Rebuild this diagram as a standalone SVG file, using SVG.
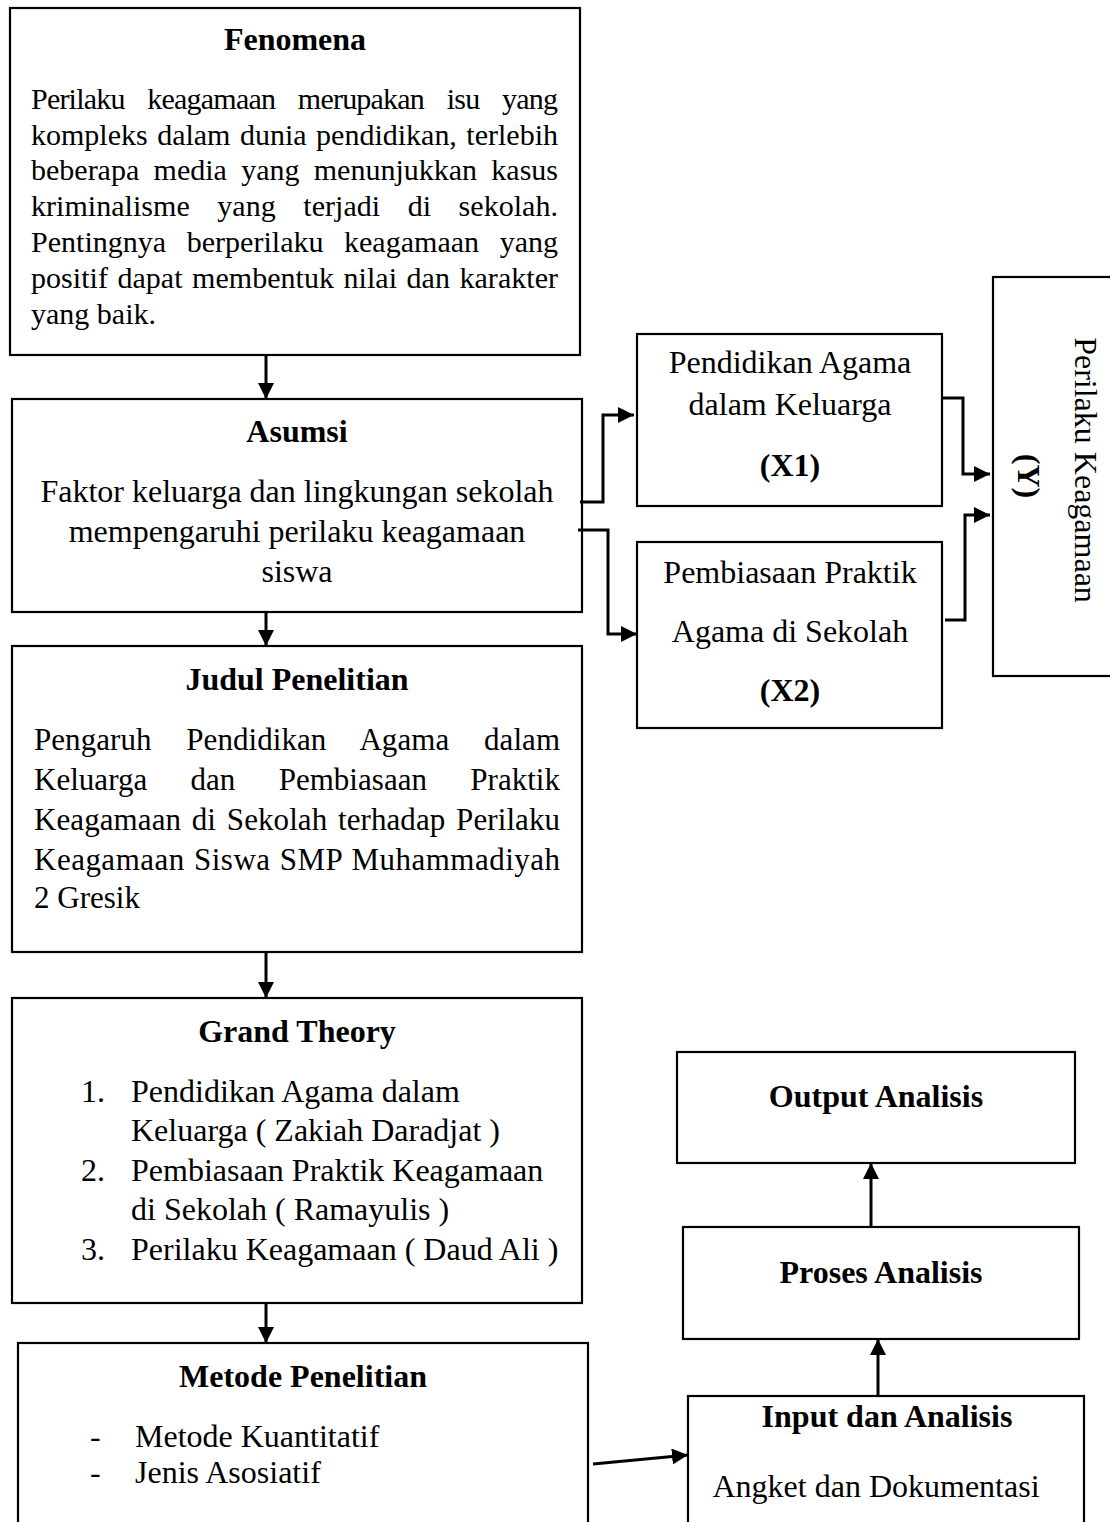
<svg xmlns="http://www.w3.org/2000/svg" width="1110" height="1522" viewBox="0 0 1110 1522">
<style>
.box{fill:#fff;stroke:#000;stroke-width:2.2}
.t{font-family:"Liberation Serif","Times New Roman",serif;fill:#000}
.b{font-weight:bold}
.s30{font-size:30px}
.s31{font-size:31px}
.s32{font-size:32px}
.c{text-anchor:middle}
.ln{fill:none;stroke:#000;stroke-width:3}
</style>
<defs>
<marker id="ah" markerUnits="userSpaceOnUse" markerWidth="18" markerHeight="16" refX="16" refY="8" orient="auto">
<path d="M0,0 L16,8 L0,16 Z" fill="#000"/>
</marker>
</defs>
<rect width="1110" height="1522" fill="#fff"/>

<g id="fenomena">
<rect class="box" x="10" y="8" width="570" height="347"/>
<text class="t b s32 c" x="295" y="50">Fenomena</text>
<text class="t s30" x="31" y="109" textLength="527" lengthAdjust="spacing" word-spacing="16">Perilaku keagamaan merupakan isu yang</text>
<text class="t s30" x="31" y="145" textLength="527" lengthAdjust="spacing" word-spacing="2">kompleks dalam dunia pendidikan, terlebih</text>
<text class="t s30" x="31" y="180" textLength="527" lengthAdjust="spacing" word-spacing="6.8">beberapa media yang menunjukkan kasus</text>
<text class="t s30" x="31" y="216" textLength="527" lengthAdjust="spacing" word-spacing="20">kriminalisme yang terjadi di sekolah.</text>
<text class="t s30" x="31" y="252" textLength="527" lengthAdjust="spacing" word-spacing="13">Pentingnya berperilaku keagamaan yang</text>
<text class="t s30" x="31" y="288" textLength="527" lengthAdjust="spacing" word-spacing="2">positif dapat membentuk nilai dan karakter</text>
<text class="t s30" x="31" y="324">yang baik.</text>
</g>

<g id="asumsi">
<rect class="box" x="12" y="399" width="570" height="213"/>
<text class="t b s32 c" x="297" y="442">Asumsi</text>
<text class="t s32 c" x="297" y="502">Faktor keluarga dan lingkungan sekolah</text>
<text class="t s32 c" x="297" y="542">mempengaruhi perilaku keagamaan</text>
<text class="t s32 c" x="297" y="582">siswa</text>
</g>

<g id="judul">
<rect class="box" x="12" y="646" width="570" height="306"/>
<text class="t b s32 c" x="297" y="690">Judul Penelitian</text>
<text class="t s31" x="34" y="750" textLength="526" lengthAdjust="spacing" word-spacing="27">Pengaruh Pendidikan Agama dalam</text>
<text class="t s31" x="34" y="790" textLength="526" lengthAdjust="spacing" word-spacing="35.5">Keluarga dan Pembiasaan Praktik</text>
<text class="t s31" x="34" y="830" textLength="526" lengthAdjust="spacing" word-spacing="2.9">Keagamaan di Sekolah terhadap Perilaku</text>
<text class="t s31" x="34" y="870" textLength="526" lengthAdjust="spacing" word-spacing="1">Keagamaan Siswa SMP Muhammadiyah</text>
<text class="t s31" x="34" y="908">2 Gresik</text>
</g>

<g id="grand-theory">
<rect class="box" x="12" y="998" width="570" height="305"/>
<text class="t b s32 c" x="297" y="1042">Grand Theory</text>
<text class="t s32" x="81" y="1102">1.</text>
<text class="t s32" x="131" y="1102">Pendidikan Agama dalam</text>
<text class="t s32" x="131" y="1141">Keluarga ( Zakiah Daradjat )</text>
<text class="t s32" x="81" y="1181">2.</text>
<text class="t s32" x="131" y="1181">Pembiasaan Praktik Keagamaan</text>
<text class="t s32" x="131" y="1220">di Sekolah ( Ramayulis )</text>
<text class="t s32" x="81" y="1260">3.</text>
<text class="t s32" x="131" y="1260">Perilaku Keagamaan ( Daud Ali )</text>
</g>

<g id="metode">
<rect class="box" x="18" y="1343" width="570" height="200"/>
<text class="t b s32 c" x="303" y="1387">Metode Penelitian</text>
<text class="t s32" x="90" y="1447">-</text>
<text class="t s32" x="135" y="1447">Metode Kuantitatif</text>
<text class="t s32" x="90" y="1483">-</text>
<text class="t s32" x="135" y="1483">Jenis Asosiatif</text>
</g>

<g id="x1">
<rect class="box" x="637" y="334" width="305" height="172"/>
<text class="t s32 c" x="790" y="373">Pendidikan Agama</text>
<text class="t s32 c" x="790" y="415">dalam Keluarga</text>
<text class="t b s32 c" x="790" y="476">(X1)</text>
</g>

<g id="x2">
<rect class="box" x="637" y="542" width="305" height="186"/>
<text class="t s32 c" x="790" y="583">Pembiasaan Praktik</text>
<text class="t s32 c" x="790" y="642">Agama di Sekolah</text>
<text class="t b s32 c" x="790" y="701">(X2)</text>
</g>

<g id="y">
<rect class="box" x="993" y="277" width="140" height="399"/>
<text class="t s32 c" transform="translate(1075,470) rotate(90)">Perilaku Keagamaan</text>
<text class="t b s32 c" transform="translate(1018,476) rotate(90)">(Y)</text>
</g>

<g id="output">
<rect class="box" x="677" y="1052" width="398" height="111"/>
<text class="t b s32 c" x="876" y="1107">Output Analisis</text>
</g>

<g id="proses">
<rect class="box" x="683" y="1227" width="396" height="112"/>
<text class="t b s32 c" x="881" y="1283">Proses Analisis</text>
</g>

<g id="input">
<rect class="box" x="688" y="1396" width="396" height="140"/>
<text class="t b s32 c" x="887" y="1427">Input dan Analisis</text>
<text class="t s32 c" x="876" y="1497">Angket dan Dokumentasi</text>
</g>

<g id="connectors">
<path class="ln" d="M266,355 L266,399" marker-end="url(#ah)"/>
<path class="ln" d="M266,612 L266,646" marker-end="url(#ah)"/>
<path class="ln" d="M266,952 L266,998" marker-end="url(#ah)"/>
<path class="ln" d="M266,1303 L266,1343" marker-end="url(#ah)"/>
<path class="ln" d="M580,502 L603,502 L603,415 L634,415" marker-end="url(#ah)"/>
<path class="ln" d="M578,530 L608,530 L608,634 L637,634" marker-end="url(#ah)"/>
<path class="ln" d="M942,398 L963,398 L963,474 L990,474" marker-end="url(#ah)"/>
<path class="ln" d="M945,620 L965,620 L965,515 L990,515" marker-end="url(#ah)"/>
<path class="ln" d="M593,1464 L688,1455" marker-end="url(#ah)"/>
<path class="ln" d="M878,1396 L878,1339" marker-end="url(#ah)"/>
<path class="ln" d="M871,1227 L871,1163" marker-end="url(#ah)"/>
</g>
</svg>
